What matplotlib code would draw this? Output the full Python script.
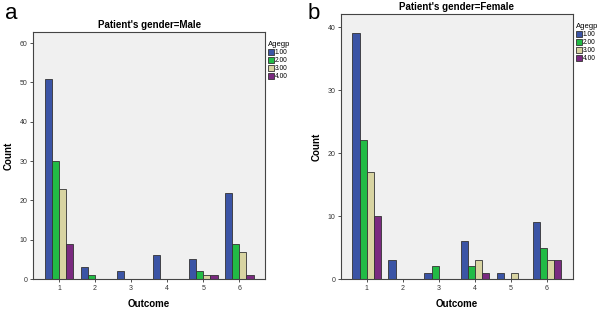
import matplotlib
matplotlib.use("Agg")
import matplotlib.pyplot as plt
import numpy as np

plt.rcParams['font.family'] = ['Liberation Sans', 'DejaVu Sans']

outcomes = [1, 2, 3, 4, 5, 6]
age_groups = ["1.00", "2.00", "3.00", "4.00"]
colors = ["#3B54A5", "#22BB45", "#D8D4A2", "#7A2A80"]

# counts per age group, one value per outcome
male = [
    [51, 3, 2, 6, 5, 22],
    [30, 1, 0, 0, 2, 9],
    [23, 0, 0, 0, 1, 7],
    [9, 0, 0, 0, 1, 1],
]
female = [
    [39, 3, 1, 6, 1, 9],
    [22, 0, 2, 2, 0, 5],
    [17, 0, 0, 3, 1, 3],
    [10, 0, 0, 1, 0, 3],
]


def panel(ax, data, title, ymax, yticks):
    ax.set_facecolor("#F0F0F0")
    x = np.array(outcomes, dtype=float)
    w = 0.2
    for i, (vals, c) in enumerate(zip(data, colors)):
        ax.bar(x + (i - 1.5) * w, vals, w, color=c, edgecolor="#333333",
               linewidth=0.6, label=age_groups[i], zorder=2)
    ax.set_xlim(0.28, 6.72)
    ax.set_ylim(0, ymax)
    ax.set_xticks(outcomes)
    ax.set_yticks(yticks)
    ax.tick_params(labelsize=5, length=2.5, width=0.6, pad=1.5, colors="#333333")
    for s in ax.spines.values():
        s.set_color("#444444")
        s.set_linewidth(0.8)
    ax.set_title(title, fontsize=7, fontweight="bold", pad=3)
    ax.set_xlabel("Outcome", fontsize=7, fontweight="bold", labelpad=5)
    ax.set_ylabel("Count", fontsize=7, fontweight="bold", labelpad=4)
    ax.legend(loc="upper left", bbox_to_anchor=(1.0, 0.975), frameon=False,
              fontsize=4.8, title="Agegp", title_fontsize=5.5,
              handlelength=0.9, handleheight=0.9, handletextpad=0.15,
              labelspacing=0.15, borderaxespad=0.3, borderpad=0.1,
              alignment="left")


fig = plt.figure(figsize=(6, 3.09), dpi=100)
ax1 = fig.add_axes([0.055, 0.097, 0.387, 0.799])
ax2 = fig.add_axes([0.568, 0.097, 0.387, 0.858])

panel(ax1, male, "Patient's gender=Male", 62.8, [0, 10, 20, 30, 40, 50, 60])
panel(ax2, female, "Patient's gender=Female", 42.1, [0, 10, 20, 30, 40])

fig.text(0.008, 0.94, "a", fontsize=16)
fig.text(0.513, 0.94, "b", fontsize=16)

fig.savefig("out.png", dpi=100)
